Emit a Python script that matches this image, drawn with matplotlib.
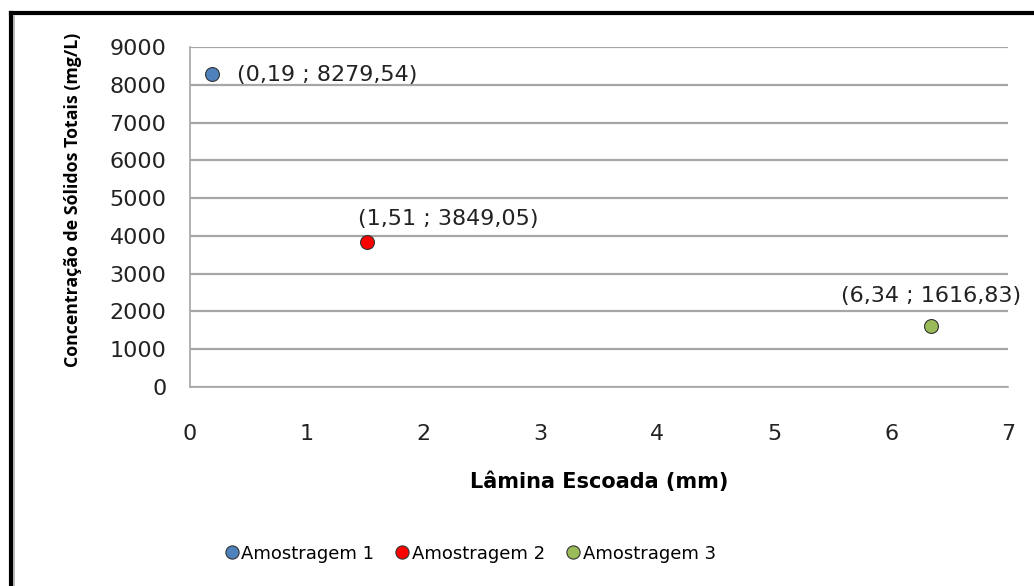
import matplotlib.pyplot as plt
from matplotlib.lines import Line2D

# Data
series = ["Amostragem 1", "Amostragem 2", "Amostragem 3"]
lamina = [0.19, 1.51, 6.34]
concentracao = [8279.54, 3849.05, 1616.83]
labels = ["(0,19 ; 8279,54)", "(1,51 ; 3849,05)", "(6,34 ; 1616,83)"]
colors = ["#4F81BD", "#FF0000", "#9BBB59"]

plt.rcParams["font.family"] = ["DejaVu Sans"]
fig = plt.figure(figsize=(10.34, 5.86), dpi=100)
ax = fig.add_axes([0.1838, 0.3396, 0.7911, 0.5802])

for x, y, c, s in zip(lamina, concentracao, colors, series):
    ax.plot(x, y, "o", color=c, markeredgecolor="#333333", markeredgewidth=0.8,
            markersize=10, label=s, zorder=3)

# Data labels
ax.annotate(labels[0], (lamina[0], concentracao[0]), xytext=(25, -1),
            textcoords="offset pixels", ha="left", va="center", fontsize=16, color="#222222")
ax.annotate(labels[1], (lamina[1], concentracao[1]), xytext=(82, 23),
            textcoords="offset pixels", ha="center", va="center", fontsize=16, color="#222222")
ax.annotate(labels[2], (lamina[2], concentracao[2]), xytext=(0, 30),
            textcoords="offset pixels", ha="center", va="center", fontsize=16, color="#222222")

ax.set_xlim(0, 7)
ax.set_ylim(0, 9000)
ax.set_xticks(range(0, 8))
ax.set_yticks(range(0, 9001, 1000))
ax.yaxis.grid(True, color="#A6A6A6", linewidth=1.6)
ax.set_axisbelow(True)
for side in ["top", "right"]:
    ax.spines[side].set_visible(False)
for side in ["left", "bottom"]:
    ax.spines[side].set_color("#A6A6A6")
    ax.spines[side].set_linewidth(1.2)
ax.tick_params(axis="both", length=0, labelsize=16, colors="#222222")
ax.tick_params(axis="x", pad=27)
ax.tick_params(axis="y", pad=17)

ax.set_xlabel("Lâmina Escoada (mm)", fontsize=15, fontweight="bold")
ax.set_ylabel("Concentração de Sólidos Totais (mg/L)", fontsize=12.8, fontweight="bold",
              family=["Open Sans", "DejaVu Sans"])
ax.xaxis.set_label_coords(0.5, -0.248)
ax.yaxis.set_label_coords(-0.132, 0.55)

ax.legend(loc="center", bbox_to_anchor=(0.4545, 0.055), bbox_transform=fig.transFigure,
          ncol=3, frameon=False, fontsize=13, handletextpad=0.1, handlelength=0.9,
          columnspacing=1.1, markerscale=0.95)

# Outer frame (top and left edges only, as in the image)
fig.add_artist(Line2D([0.0106, 1.0], [0.9770, 0.9770], color="black", linewidth=3))
fig.add_artist(Line2D([0.0106, 0.0106], [0.0, 0.9770], color="black", linewidth=3))
fig.add_artist(Line2D([0.0138, 0.0138], [0.0, 0.972], color="#AAAAAA", linewidth=1.2))

fig.savefig("out.png", dpi=100)
